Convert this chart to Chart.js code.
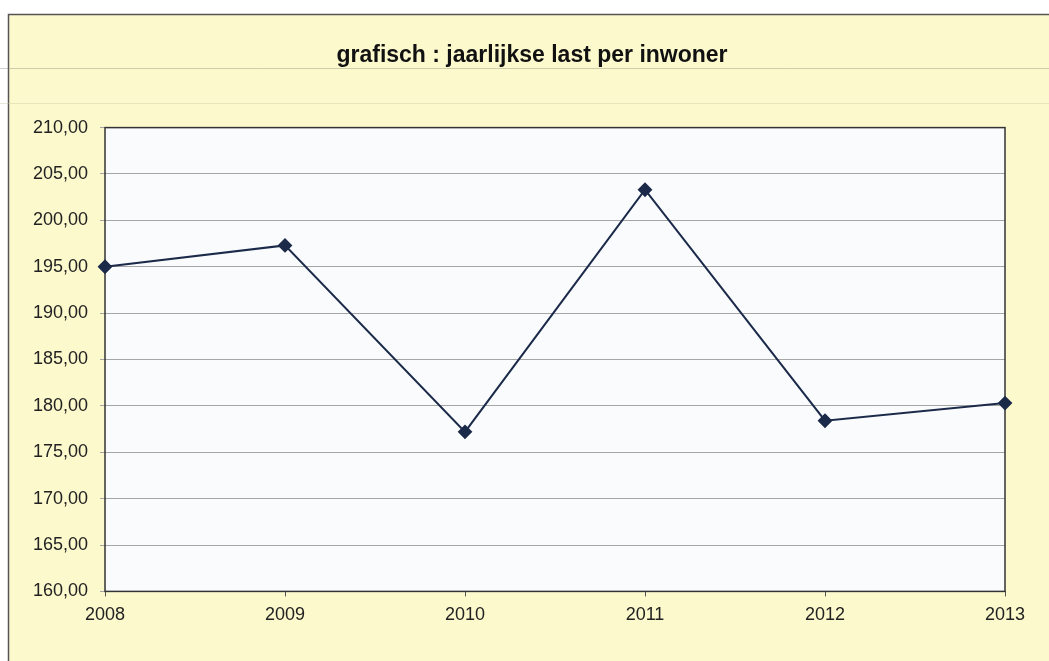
<!DOCTYPE html>
<html>
<head>
<meta charset="utf-8">
<script src="https://cdn.jsdelivr.net/npm/chart.js@4"></script>
<style>
  html, body { margin: 0; padding: 0; background: #ffffff; }
  #wrap { position: relative; width: 1049px; height: 661px; }
</style>
</head>
<body>
<div id="wrap"><canvas id="lastChart" width="1049" height="661"></canvas></div>
<script>
// jaren en last per inwoner (euro)
const jaren = ['2008', '2009', '2010', '2011', '2012', '2013'];
const lastPerInwoner = [195.0, 197.3, 177.2, 203.3, 178.4, 180.3];
const yTicks = [160, 165, 170, 175, 180, 185, 190, 195, 200, 205, 210];

const lettertype = 'Liberation Sans, Arial, sans-serif';

function komma(value) {
    return Number(value).toFixed(2).replace('.', ',');
}

// achtergrond van het werkblad en het geel kader, plus de witte plotzone
const achtergrond = {
    id: 'achtergrond',
    beforeDraw(chart) {
        const c = chart.ctx;
        const a = chart.chartArea;
        c.save();
        c.fillStyle = '#ffffff';
        c.fillRect(0, 0, chart.width, chart.height);
        c.fillStyle = '#fcf9cd';
        c.fillRect(8, 14, chart.width - 8, chart.height - 14);
        c.strokeStyle = '#555555';
        c.lineWidth = 1.5;
        c.beginPath();
        c.moveTo(8.5, chart.height);
        c.lineTo(8.5, 14.5);
        c.lineTo(chart.width, 14.5);
        c.stroke();
        // celranden van het werkblad
        c.lineWidth = 1;
        c.strokeStyle = 'rgba(120,120,110,0.35)';
        c.beginPath();
        c.moveTo(0, 68.5);
        c.lineTo(chart.width, 68.5);
        c.stroke();
        c.strokeStyle = 'rgba(200,200,160,0.4)';
        c.beginPath();
        c.moveTo(0, 103.5);
        c.lineTo(chart.width, 103.5);
        c.stroke();
        c.fillStyle = '#f9fbfd';
        c.fillRect(a.left, a.top, a.right - a.left, a.bottom - a.top);
        c.restore();
    },
    beforeDatasetsDraw(chart) {
        const c = chart.ctx;
        const a = chart.chartArea;
        c.save();
        c.strokeStyle = '#333333';
        c.lineWidth = 1.5;
        c.strokeRect(a.left, a.top, a.right - a.left, a.bottom - a.top);
        c.restore();
    }
};

const ctx = document.getElementById('lastChart');
new Chart(ctx.getContext('2d'), {
    type: 'line',
    data: {
        labels: jaren,
        datasets: [{
            label: 'last per inwoner',
            data: lastPerInwoner,
            borderColor: '#1c2a4a',
            backgroundColor: '#1c2a4a',
            borderWidth: 2,
            pointStyle: 'rectRot',
            pointRadius: 6,
            pointHoverRadius: 6,
            tension: 0,
            clip: 12
        }]
    },
    options: {
        responsive: false,
        animation: false,
        layout: {
            padding: { left: 15, right: 0, top: 0, bottom: 27 }
        },
        plugins: {
            legend: { display: false },
            tooltip: { enabled: false },
            title: {
                display: true,
                text: 'grafisch : jaarlijkse last per inwoner',
                color: '#111111',
                font: { family: lettertype, size: 23, weight: 'bold' },
                padding: { top: 42, bottom: 58 }
            }
        },
        scales: {
            x: {
                type: 'category',
                offset: false,
                grid: {
                    display: true,
                    drawOnChartArea: false,
                    drawTicks: true,
                    tickLength: 5,
                    color: '#555555'
                },
                border: { display: false },
                ticks: {
                    color: '#222222',
                    padding: 8,
                    maxRotation: 0,
                    font: { family: lettertype, size: 18 }
                }
            },
            y: {
                min: 160,
                max: 210,
                afterBuildTicks(axis) {
                    axis.ticks = yTicks.map(v => ({ value: v }));
                },
                afterFit(axis) {
                    axis.width = 90;
                },
                grid: {
                    color: '#a5a5a5',
                    lineWidth: 1,
                    tickLength: 5
                },
                border: { display: false },
                ticks: {
                    color: '#222222',
                    padding: 12,
                    font: { family: lettertype, size: 18 },
                    callback: function(value) {
                        return komma(value);
                    }
                }
            },
            // lege rechterrand naast de plotzone
            rechts: {
                position: 'right',
                display: true,
                afterFit(axis) {
                    axis.width = 44;
                },
                grid: { display: false },
                border: { display: false },
                ticks: { display: false }
            }
        }
    },
    plugins: [achtergrond]
});
</script>
</body>
</html>
